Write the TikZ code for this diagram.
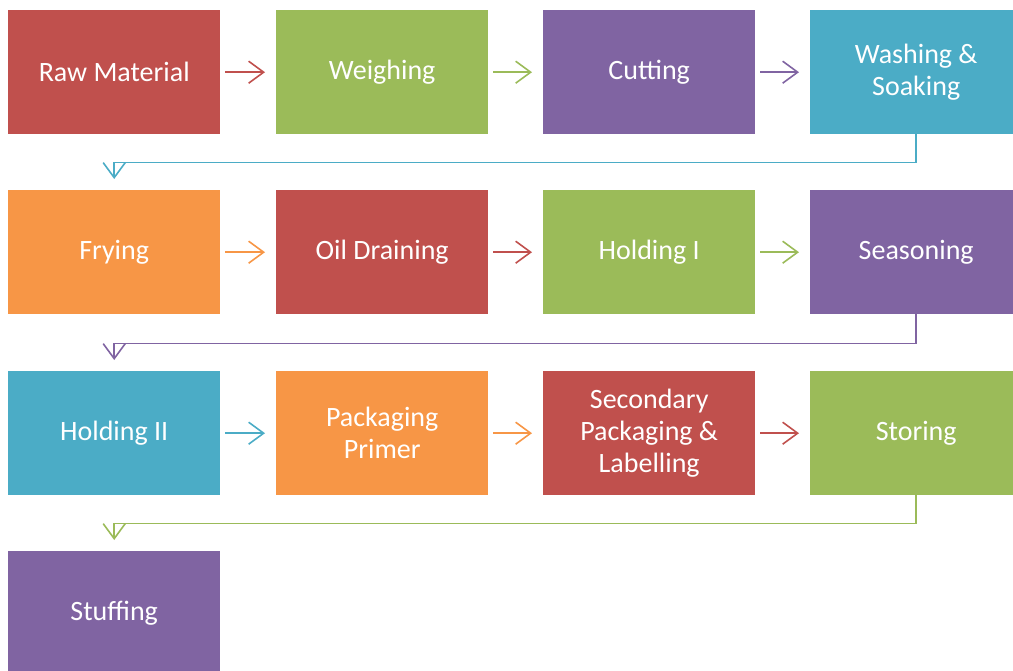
\documentclass[tikz,border=0pt]{standalone}
\usepackage{fontspec}
\setmainfont{Carlito}
\usetikzlibrary{arrows.meta}
\definecolor{cred}{HTML}{C0504D}
\definecolor{cgreen}{HTML}{9BBB59}
\definecolor{cpurple}{HTML}{8064A2}
\definecolor{ccyan}{HTML}{4BACC6}
\definecolor{corange}{HTML}{F79646}
\tikzset{
  stepbox/.style={fill=#1, draw=none, text=white, anchor=north west,
    minimum width=212pt, minimum height=124pt, inner sep=0pt, align=center,
    font=\fontsize{28}{32}\selectfont},
  conn/.style={draw=#1, line width=1.6pt, -{Straight Barb[length=15pt,width=22pt,line width=1.6pt]}},
}
\begin{document}
\begin{tikzpicture}[x=1pt,y=-1pt]
\useasboundingbox (0,0) rectangle (1013,670);
\clip (0,0) rectangle (1013,670);
% row 1
\node[stepbox=cred] (a1) at (8,10) {Raw Material};
\node[stepbox=cgreen] (a2) at (276,10) {Weighing};
\node[stepbox=cpurple] (a3) at (543,10) {Cutting};
\node[stepbox=ccyan] (a4) at (810,10) {Washing \&\\Soaking};
% row 2
\node[stepbox=corange] (b1) at (8,190) {Frying};
\node[stepbox=cred] (b2) at (276,190) {Oil Draining};
\node[stepbox=cgreen] (b3) at (543,190) {Holding I};
\node[stepbox=cpurple] (b4) at (810,190) {Seasoning};
% row 3
\node[stepbox=ccyan] (c1) at (8,371) {Holding II};
\node[stepbox=corange] (c2) at (276,371) {Packaging\\Primer};
\node[stepbox=cred] (c3) at (543,371) {Secondary\\Packaging \&\\Labelling};
\node[stepbox=cgreen] (c4) at (810,371) {Storing};
% row 4
\node[stepbox=cpurple] (d1) at (8,551) {Stuffing};
% horizontal connectors
\draw[conn=cred] ([xshift=5pt]a1.east) -- ([xshift=-11pt]a2.west);
\draw[conn=cgreen] ([xshift=5pt]a2.east) -- ([xshift=-11pt]a3.west);
\draw[conn=cpurple] ([xshift=5pt]a3.east) -- ([xshift=-11pt]a4.west);
\draw[conn=corange] ([xshift=5pt]b1.east) -- ([xshift=-11pt]b2.west);
\draw[conn=cred] ([xshift=5pt]b2.east) -- ([xshift=-11pt]b3.west);
\draw[conn=cgreen] ([xshift=5pt]b3.east) -- ([xshift=-11pt]b4.west);
\draw[conn=ccyan] ([xshift=5pt]c1.east) -- ([xshift=-11pt]c2.west);
\draw[conn=corange] ([xshift=5pt]c2.east) -- ([xshift=-11pt]c3.west);
\draw[conn=cred] ([xshift=5pt]c3.east) -- ([xshift=-11pt]c4.west);
% wrap connectors
\draw[conn=ccyan] (a4.south) -- ++(0,28) -| ([yshift=11pt]b1.north);
\draw[conn=cpurple] (b4.south) -- ++(0,29) -| ([yshift=11pt]c1.north);
\draw[conn=cgreen] (c4.south) -- ++(0,28) -| ([yshift=11pt]d1.north);
\end{tikzpicture}
\end{document}
